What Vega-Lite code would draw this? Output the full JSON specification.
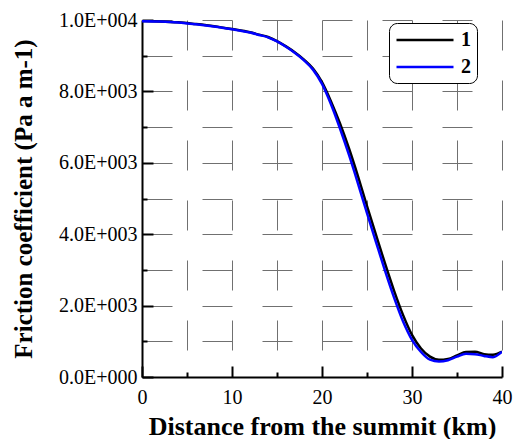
{
  "$schema": "https://vega.github.io/schema/vega-lite/v6.json",
  "width": 360,
  "height": 357,
  "autosize": {"type": "none"},
  "padding": {"left": 142, "top": 20, "right": 12, "bottom": 62},
  "background": "white",
  "config": {
    "view": {"stroke": null},
    "font": "Liberation Serif"
  },
  "data": {
    "values": [
      {"km": 0, "f": 9972, "s": "1"}, {"km": 2, "f": 9960, "s": "1"}, {"km": 4, "f": 9935, "s": "1"},
      {"km": 6, "f": 9885, "s": "1"}, {"km": 8, "f": 9825, "s": "1"}, {"km": 10, "f": 9745, "s": "1"},
      {"km": 12, "f": 9655, "s": "1"}, {"km": 13, "f": 9590, "s": "1"}, {"km": 14, "f": 9525, "s": "1"},
      {"km": 15, "f": 9410, "s": "1"}, {"km": 16, "f": 9260, "s": "1"}, {"km": 17, "f": 9090, "s": "1"},
      {"km": 18, "f": 8890, "s": "1"}, {"km": 19, "f": 8640, "s": "1"}, {"km": 20, "f": 8260, "s": "1"},
      {"km": 21, "f": 7720, "s": "1"}, {"km": 22, "f": 7100, "s": "1"}, {"km": 23, "f": 6400, "s": "1"},
      {"km": 24, "f": 5620, "s": "1"}, {"km": 25, "f": 4790, "s": "1"}, {"km": 26, "f": 3980, "s": "1"},
      {"km": 27, "f": 3180, "s": "1"}, {"km": 28, "f": 2420, "s": "1"}, {"km": 29, "f": 1740, "s": "1"},
      {"km": 30, "f": 1180, "s": "1"}, {"km": 31, "f": 800, "s": "1"}, {"km": 32, "f": 570, "s": "1"},
      {"km": 33, "f": 480, "s": "1"}, {"km": 34, "f": 505, "s": "1"}, {"km": 35, "f": 605, "s": "1"},
      {"km": 36, "f": 700, "s": "1"}, {"km": 37, "f": 705, "s": "1"}, {"km": 38, "f": 640, "s": "1"},
      {"km": 39, "f": 625, "s": "1"}, {"km": 40, "f": 710, "s": "1"},
      {"km": 0, "f": 9968, "s": "2"}, {"km": 2, "f": 9957, "s": "2"}, {"km": 4, "f": 9932, "s": "2"},
      {"km": 6, "f": 9882, "s": "2"}, {"km": 8, "f": 9820, "s": "2"}, {"km": 10, "f": 9740, "s": "2"},
      {"km": 12, "f": 9648, "s": "2"}, {"km": 13, "f": 9582, "s": "2"}, {"km": 14, "f": 9515, "s": "2"},
      {"km": 15, "f": 9400, "s": "2"}, {"km": 16, "f": 9250, "s": "2"}, {"km": 17, "f": 9075, "s": "2"},
      {"km": 18, "f": 8870, "s": "2"}, {"km": 19, "f": 8610, "s": "2"}, {"km": 20, "f": 8210, "s": "2"},
      {"km": 21, "f": 7640, "s": "2"}, {"km": 22, "f": 6960, "s": "2"}, {"km": 23, "f": 6220, "s": "2"},
      {"km": 24, "f": 5420, "s": "2"}, {"km": 25, "f": 4590, "s": "2"}, {"km": 26, "f": 3780, "s": "2"},
      {"km": 27, "f": 2980, "s": "2"}, {"km": 28, "f": 2230, "s": "2"}, {"km": 29, "f": 1560, "s": "2"},
      {"km": 30, "f": 1040, "s": "2"}, {"km": 31, "f": 700, "s": "2"}, {"km": 32, "f": 485, "s": "2"},
      {"km": 33, "f": 432, "s": "2"}, {"km": 34, "f": 470, "s": "2"}, {"km": 35, "f": 570, "s": "2"},
      {"km": 36, "f": 650, "s": "2"}, {"km": 37, "f": 640, "s": "2"}, {"km": 38, "f": 590, "s": "2"},
      {"km": 39, "f": 555, "s": "2"}, {"km": 40, "f": 710, "s": "2"}
    ]
  },
  "mark": {"type": "line", "strokeWidth": 2.5, "interpolate": "monotone", "clip": true},
  "encoding": {
    "x": {
      "field": "km", "type": "quantitative",
      "scale": {"domain": [0, 40], "nice": false, "zero": false},
      "axis": {
        "title": "Distance from the summit (km)",
        "titleFont": "Liberation Serif", "titleFontSize": 26, "titleFontWeight": "bold", "titleColor": "black",
        "titlePadding": 0,
        "values": [0, 5, 10, 15, 20, 25, 30, 35, 40],
        "labelExpr": "datum.value % 10 === 0 ? datum.value : ''",
        "labelFont": "Liberation Serif", "labelFontSize": 20, "labelColor": "black",
        "labelPadding": 21, "labelFlush": false, "labelOverlap": false,
        "domainColor": "black", "domainWidth": 2,
        "tickColor": "black", "tickWidth": 2,
        "tickSize": {"condition": {"test": "datum.value % 10 === 0", "value": -11}, "value": -5},
        "grid": true, "gridColor": "#707070", "gridWidth": 1, "gridDash": [30, 30]
      }
    },
    "y": {
      "field": "f", "type": "quantitative",
      "scale": {"domain": [0, 10000], "nice": false},
      "axis": {
        "title": "Friction coefficient (Pa a m-1)",
        "titleFont": "Liberation Serif", "titleFontSize": 25, "titleFontWeight": "bold", "titleColor": "black",
        "titlePadding": 22,
        "values": [0, 1000, 2000, 3000, 4000, 5000, 6000, 7000, 8000, 9000, 10000],
        "labelExpr": "datum.value === 0 ? '0.0E+000' : datum.value % 2000 !== 0 ? '' : datum.value >= 10000 ? format(datum.value / 10000, '.1f') + 'E+004' : format(datum.value / 1000, '.1f') + 'E+003'",
        "labelFont": "Liberation Serif", "labelFontSize": 20, "labelColor": "black",
        "labelPadding": 16, "labelFlush": false, "labelOverlap": false,
        "domainColor": "black", "domainWidth": 2,
        "tickColor": "black", "tickWidth": 2,
        "tickSize": {"condition": {"test": "datum.value % 2000 === 0", "value": -11}, "value": -5},
        "grid": true, "gridColor": "#707070", "gridWidth": 1, "gridDash": [30, 30]
      }
    },
    "color": {
      "field": "s", "type": "nominal",
      "scale": {"domain": ["1", "2"], "range": ["black", "#0000ff"]},
      "legend": {
        "title": null, "orient": "none", "legendX": 247, "legendY": 3,
        "symbolType": "M-1,0H5", "symbolSize": 361, "symbolStrokeWidth": 2.5,
        "labelFont": "Liberation Serif", "labelFontSize": 20, "labelFontWeight": "bold", "labelColor": "black",
        "labelOffset": 44, "rowPadding": 6,
        "strokeColor": "black", "fillColor": "white", "cornerRadius": 8, "padding": 6
      }
    }
  }
}
